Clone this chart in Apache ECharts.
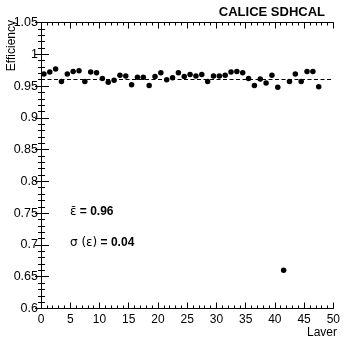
<!DOCTYPE html>
<html>
<head>
<meta charset="utf-8">
<script src="https://cdn.jsdelivr.net/npm/echarts@6/dist/echarts.min.js"></script>
<style>
html,body{margin:0;padding:0;background:#fff;}
#chart{width:343px;height:339px;}
</style>
</head>
<body>
<div id="chart"></div>
<script>
const layers = [0.5,1.5,2.5,3.5,4.5,5.5,6.5,7.5,8.5,9.5,10.5,11.5,12.5,13.5,14.5,15.5,16.5,17.5,18.5,19.5,20.5,21.5,22.5,23.5,24.5,25.5,26.5,27.5,28.5,29.5,30.5,31.5,32.5,33.5,34.5,35.5,36.5,37.5,38.5,39.5,40.5,41.5,42.5,43.5,44.5,45.5,46.5,47.5];
const efficiency = [0.969,0.972,0.977,0.957,0.969,0.973,0.974,0.957,0.972,0.971,0.962,0.956,0.959,0.967,0.966,0.952,0.964,0.964,0.951,0.965,0.971,0.960,0.963,0.971,0.965,0.968,0.966,0.968,0.957,0.966,0.966,0.967,0.972,0.973,0.971,0.962,0.951,0.961,0.955,0.967,0.948,0.660,0.957,0.969,0.957,0.973,0.973,0.949];
const meanEfficiency = 0.965;
const xTitle = 'Laver';
const yTitle = 'Efficiency';
const chartTitle = 'CALICE SDHCAL';
const meanText = ['ε\u0304', ' = 0.96'];
const sigmaText = ['σ (ε)', ' = 0.04'];

const chart = echarts.init(document.getElementById('chart'), null, {renderer:'canvas'});
const font = 'Liberation Sans, Arial, Helvetica, sans-serif';
function xAx(pos, showLabel){
  return {
    type:'value', position:pos, min:0, max:50, interval:5,
    axisLine:{show:true, lineStyle:{color:'#000', width:1}},
    axisTick:{show:true, inside:true, length:6, lineStyle:{color:'#000'}},
    minorTick:{show:true, splitNumber:5, length:3, lineStyle:{color:'#000'}},
    splitLine:{show:false},
    axisLabel:{show:showLabel, color:'#000', fontSize:12, fontFamily:font, margin:5}
  };
}
function yAx(pos, showLabel, major, minor){
  return {
    type:'value', position:pos, min:0.6, max:1.05, interval:0.05,
    axisLine:{show:true, lineStyle:{color:'#000', width:1}},
    axisTick:{show:true, inside:true, length:major, lineStyle:{color:'#000'}},
    minorTick:{show:true, splitNumber:5, length:minor, lineStyle:{color:'#000'}},
    splitLine:{show:false},
    axisLabel:{show:showLabel, color:'#000', fontSize:12.5, fontFamily:font, margin:3,
      formatter:v=>String(+v.toFixed(2))}
  };
}
chart.setOption({
  animation:false,
  backgroundColor:'#fff',
  grid:{left:41, right:8, top:22.5, bottom:30.5},
  xAxis:[xAx('bottom', true), xAx('top', false)],
  yAxis:[yAx('left', true, 8, 4), yAx('right', false, 6, 3)],
  series:[{
    type:'scatter', xAxisIndex:0, yAxisIndex:0,
    data:layers.map((x,i)=>[x, efficiency[i]]),
    symbol:'circle', symbolSize:5.5,
    itemStyle:{color:'#000', opacity:1},
    markLine:{
      silent:true, symbol:'none', label:{show:false},
      lineStyle:{color:'#000', type:[4,2.5], width:1, opacity:1},
      data:[{yAxis:meanEfficiency}]
    }
  }],
  graphic:[
    {type:'text', right:18, top:6, style:{text:chartTitle, font:'bold 13px '+font, fill:'#000'}},
    {type:'text', x:337, y:333, style:{text:xTitle, font:'12px '+font, fill:'#000', align:'right', verticalAlign:'middle'}},
    {type:'text', x:12, y:20, rotation:Math.PI/2, style:{text:yTitle, font:'12px '+font, fill:'#000', align:'right', verticalAlign:'middle'}},
    {type:'text', x:70, y:212, style:{
      text:'{a|'+meanText[0]+'}{b|'+meanText[1]+'}', verticalAlign:'middle',
      rich:{a:{font:'12px DejaVu Sans', fill:'#000'}, b:{font:'bold 12px '+font, fill:'#000'}}
    }},
    {type:'text', x:70, y:243, style:{
      text:'{a|'+sigmaText[0]+'}{b|'+sigmaText[1]+'}', verticalAlign:'middle',
      rich:{a:{font:'12px DejaVu Sans, '+font, fill:'#000'}, b:{font:'bold 12px '+font, fill:'#000'}}
    }}
  ]
});
</script>
</body>
</html>
